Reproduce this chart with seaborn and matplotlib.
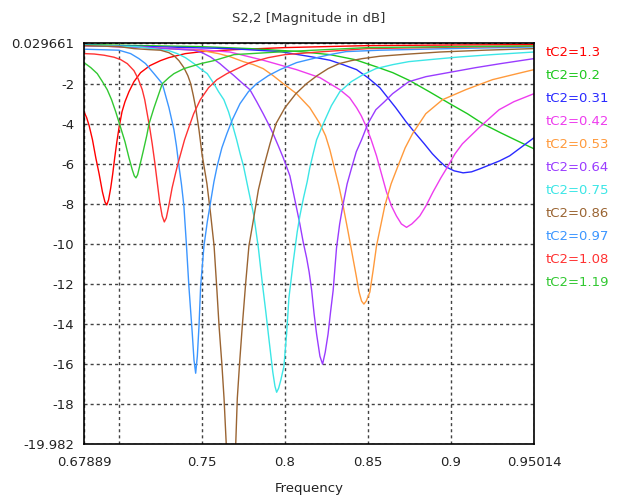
import matplotlib
matplotlib.use('Agg')
import matplotlib.pyplot as plt
from matplotlib.lines import Line2D
import seaborn as sns
import pandas as pd

# curve labels and colours (legend order)
labels = ['tC2=1.3', 'tC2=0.2', 'tC2=0.31', 'tC2=0.42', 'tC2=0.53', 'tC2=0.64',
          'tC2=0.75', 'tC2=0.86', 'tC2=0.97', 'tC2=1.08', 'tC2=1.19']
colors = ['#ff0000', '#1ec81e', '#2a2aff', '#ee3cee', '#ff9a3c', '#9a3cff',
          '#3ce6e6', '#9a6432', '#3c96ff', '#ff3232', '#32c832']

# values (frequency, dB)
f_130 = [0.6789, 0.6805, 0.6820, 0.6840, 0.6860, 0.6880, 0.6900, 0.6915, 0.6926, 0.6937,
         0.6950, 0.6962, 0.6974, 0.6987, 0.7000, 0.7018, 0.7036, 0.7060, 0.7090, 0.7130,
         0.7186, 0.7250, 0.7300, 0.7400, 0.7500, 0.7700, 0.8000, 0.8500, 0.9000, 0.9501]
db_130 = [-3.4, -3.7, -4.1, -4.8, -5.7, -6.5, -7.4, -7.9, -8.05, -7.8,
          -7.2, -6.5, -5.7, -4.9, -4.2, -3.4, -2.9, -2.4, -1.9, -1.45,
          -1.1, -0.85, -0.7, -0.5, -0.4, -0.3, -0.2, -0.1, -0.07, -0.05]

f_020 = [0.6789, 0.7488, 0.7789, 0.8090, 0.8271, 0.8422, 0.8548, 0.8650, 0.8753, 0.8870,
         0.8994, 0.9100, 0.9193, 0.9300, 0.9400, 0.9501]
db_020 = [-0.05, -0.15, -0.25, -0.4, -0.55, -0.8, -1.15, -1.45, -1.85, -2.4,
          -3.0, -3.5, -4.0, -4.45, -4.85, -5.25]

f_031 = [0.6789, 0.7186, 0.7668, 0.7970, 0.8168, 0.8271, 0.8350, 0.8432, 0.8500, 0.8572,
         0.8620, 0.8668, 0.8730, 0.8789, 0.8840, 0.8889, 0.8930, 0.8970, 0.9020, 0.9074,
         0.9125, 0.9175, 0.9235, 0.9295, 0.9355, 0.9420, 0.9501]
db_031 = [-0.08, -0.15, -0.25, -0.4, -0.67, -0.83, -1.05, -1.3, -1.7, -2.2,
          -2.7, -3.2, -3.9, -4.5, -5.0, -5.5, -5.85, -6.15, -6.35, -6.45,
          -6.4, -6.25, -6.05, -5.85, -5.6, -5.2, -4.7]

f_042 = [0.6789, 0.7200, 0.7488, 0.7668, 0.7869, 0.8070, 0.8211, 0.8331, 0.8390, 0.8432,
         0.8460, 0.8488, 0.8520, 0.8552, 0.8582, 0.8612, 0.8642, 0.8672, 0.8702, 0.8733,
         0.8765, 0.8790, 0.8813, 0.8850, 0.8893, 0.8940, 0.8984, 0.9025, 0.9070, 0.9120,
         0.9170, 0.9230, 0.9291, 0.9380, 0.9501]
db_042 = [-0.1, -0.2, -0.3, -0.42, -0.83, -1.3, -1.7, -2.3, -2.7, -3.2,
          -3.6, -4.1, -4.8, -5.6, -6.5, -7.4, -8.1, -8.6, -9.0, -9.17,
          -9.0, -8.8, -8.6, -8.1, -7.4, -6.7, -6.1, -5.5, -5.0, -4.6,
          -4.2, -3.75, -3.3, -2.9, -2.5]

f_053 = [0.6789, 0.7186, 0.7500, 0.7600, 0.7668, 0.7749, 0.7810, 0.7869, 0.7929, 0.7990,
         0.8070, 0.8150, 0.8211, 0.8245, 0.8271, 0.8295, 0.8325, 0.8351, 0.8381, 0.8411,
         0.8430, 0.8447, 0.8462, 0.8476, 0.8490, 0.8512, 0.8532, 0.8552, 0.8577, 0.8602,
         0.8640, 0.8682, 0.8725, 0.8769, 0.8849, 0.8950, 0.9090, 0.9251, 0.9400, 0.9501]
db_053 = [-0.1, -0.2, -0.35, -0.5, -0.65, -0.9, -1.05, -1.25, -1.6, -2.0,
          -2.5, -3.2, -4.0, -4.6, -5.3, -6.1, -7.1, -8.1, -9.4, -10.75,
          -11.6, -12.4, -12.85, -13.0, -12.85, -12.4, -11.3, -10.1, -9.1, -8.1,
          -7.0, -6.1, -5.2, -4.5, -3.5, -2.8, -2.3, -1.8, -1.5, -1.3]

f_064 = [0.6789, 0.7186, 0.7452, 0.7500, 0.7552, 0.7608, 0.7650, 0.7693, 0.7740, 0.7789,
         0.7830, 0.7869, 0.7900, 0.7929, 0.7960, 0.7990, 0.8030, 0.8060, 0.8090, 0.8110,
         0.8131, 0.8146, 0.8161, 0.8176, 0.8191, 0.8211, 0.8227, 0.8243, 0.8260, 0.8275,
         0.8291, 0.8311, 0.8330, 0.8351, 0.8375, 0.8402, 0.8430, 0.8462, 0.8500, 0.8548,
         0.8600, 0.8649, 0.8747, 0.8850, 0.8950, 0.9150, 0.9300, 0.9501]
db_064 = [-0.1, -0.2, -0.33, -0.45, -0.67, -1.0, -1.3, -1.6, -1.95, -2.3,
          -2.9, -3.5, -4.0, -4.5, -5.1, -5.7, -6.6, -7.8, -9.0, -9.9,
          -10.7, -11.4, -12.3, -13.5, -14.5, -15.6, -16.0, -15.4, -14.5, -13.4,
          -12.3, -10.2, -9.0, -8.0, -7.0, -6.2, -5.4, -4.8, -4.0, -3.3,
          -2.9, -2.5, -1.9, -1.65, -1.5, -1.2, -1.0, -0.75]

f_075 = [0.6789, 0.7100, 0.7300, 0.7351, 0.7400, 0.7452, 0.7490, 0.7532, 0.7572, 0.7600,
         0.7632, 0.7660, 0.7682, 0.7709, 0.7730, 0.7750, 0.7780, 0.7813, 0.7840, 0.7863,
         0.7885, 0.7903, 0.7927, 0.7940, 0.7950, 0.7962, 0.7975, 0.7994, 0.8010, 0.8024,
         0.8050, 0.8074, 0.8090, 0.8112, 0.8134, 0.8150, 0.8170, 0.8191, 0.8231, 0.8280,
         0.8331, 0.8400, 0.8471, 0.8548, 0.8650, 0.8747, 0.8900, 0.9048, 0.9250, 0.9501]
db_075 = [-0.08, -0.15, -0.35, -0.5, -0.7, -1.0, -1.25, -1.5, -2.0, -2.4,
          -2.8, -3.4, -4.0, -4.8, -5.5, -6.1, -7.3, -8.6, -10.2, -11.9,
          -13.4, -14.7, -16.4, -17.1, -17.4, -17.2, -16.8, -16.1, -14.5, -12.7,
          -10.9, -9.4, -8.6, -7.7, -6.9, -6.2, -5.5, -4.8, -4.0, -3.1,
          -2.4, -1.9, -1.55, -1.25, -1.05, -0.9, -0.78, -0.67, -0.55, -0.42]

f_086 = [0.6789, 0.7000, 0.7090, 0.7180, 0.7250, 0.7300, 0.7331, 0.7361, 0.7391, 0.7415,
         0.7432, 0.7448, 0.7462, 0.7482, 0.7500, 0.7530, 0.7552, 0.7573, 0.7590, 0.7603,
         0.7620, 0.7633, 0.7647, 0.7660, 0.7675, 0.7690, 0.7703, 0.7713, 0.7728, 0.7743,
         0.7763, 0.7783, 0.7810, 0.7840, 0.7874, 0.7910, 0.7946, 0.8000, 0.8066, 0.8130,
         0.8194, 0.8260, 0.8327, 0.8400, 0.8466, 0.8573, 0.8750, 0.8934, 0.9200, 0.9501]
db_086 = [-0.1, -0.15, -0.25, -0.3, -0.33, -0.45, -0.6, -0.85, -1.2, -1.6,
          -2.0, -2.6, -3.2, -4.3, -5.5, -7.0, -8.5, -10.1, -12.3, -14.1,
          -16.0, -17.7, -20.1, -24.0, -27.0, -24.0, -20.1, -17.7, -15.8, -14.1,
          -12.0, -10.1, -8.8, -7.3, -6.1, -5.0, -4.0, -3.2, -2.5, -2.0,
          -1.6, -1.25, -1.0, -0.85, -0.75, -0.63, -0.52, -0.42, -0.33, -0.25]

f_097 = [0.6789, 0.7000, 0.7070, 0.7120, 0.7160, 0.7211, 0.7261, 0.7301, 0.7331, 0.7346,
         0.7361, 0.7376, 0.7391, 0.7406, 0.7421, 0.7441, 0.7452, 0.7462, 0.7472, 0.7482,
         0.7492, 0.7512, 0.7532, 0.7552, 0.7572, 0.7592, 0.7620, 0.7650, 0.7683, 0.7729,
         0.7780, 0.7829, 0.7900, 0.7970, 0.8070, 0.8168, 0.8270, 0.8368, 0.8573, 0.9000,
         0.9501]
db_097 = [-0.28, -0.33, -0.5, -0.75, -1.0, -1.5, -2.0, -3.2, -4.3, -5.1,
          -6.1, -7.0, -8.1, -10.0, -12.1, -14.4, -15.8, -16.45, -15.6, -14.1,
          -12.1, -10.1, -8.9, -7.9, -6.9, -6.1, -5.2, -4.5, -3.8, -3.0,
          -2.4, -2.0, -1.6, -1.3, -0.95, -0.75, -0.55, -0.4, -0.33, -0.25,
          -0.17]

f_108 = [0.6789, 0.6850, 0.6910, 0.6970, 0.7010, 0.7050, 0.7090, 0.7115, 0.7140, 0.7155,
         0.7170, 0.7185, 0.7200, 0.7215, 0.7230, 0.7245, 0.7260, 0.7273, 0.7285, 0.7300,
         0.7320, 0.7340, 0.7355, 0.7375, 0.7395, 0.7420, 0.7450, 0.7490, 0.7540, 0.7590,
         0.7650, 0.7700, 0.7790, 0.7900, 0.8000, 0.8200, 0.8500, 0.9000, 0.9501]
db_108 = [-0.5, -0.52, -0.58, -0.68, -0.8, -1.0, -1.35, -1.75, -2.3, -2.8,
          -3.5, -4.2, -5.0, -5.9, -6.9, -7.9, -8.6, -8.9, -8.7, -8.1,
          -7.2, -6.5, -6.0, -5.4, -4.8, -4.2, -3.5, -2.8, -2.2, -1.8,
          -1.5, -1.3, -0.95, -0.7, -0.55, -0.42, -0.25, -0.18, -0.13]

f_119 = [0.6789, 0.6830, 0.6869, 0.6900, 0.6929, 0.6955, 0.6980, 0.7010, 0.7036, 0.7060,
         0.7080, 0.7092, 0.7102, 0.7112, 0.7125, 0.7145, 0.7167, 0.7181, 0.7211, 0.7261,
         0.7300, 0.7331, 0.7391, 0.7492, 0.7572, 0.7693, 0.8000, 0.8500, 0.9000, 0.9501]
db_119 = [-0.95, -1.2, -1.5, -1.9, -2.3, -2.8, -3.4, -4.2, -4.9, -5.7,
          -6.3, -6.6, -6.7, -6.55, -6.1, -5.4, -4.6, -4.0, -3.2, -2.0,
          -1.7, -1.5, -1.25, -1.0, -0.85, -0.55, -0.4, -0.2, -0.15, -0.12]

series = [(f_130, db_130), (f_020, db_020), (f_031, db_031), (f_042, db_042),
          (f_053, db_053), (f_064, db_064), (f_075, db_075), (f_086, db_086),
          (f_097, db_097), (f_108, db_108), (f_119, db_119)]

frames = []
for lab, (f, db) in zip(labels, series):
    frames.append(pd.DataFrame({'Frequency': f, 'dB': db, 'curve': lab}))
df = pd.concat(frames, ignore_index=True)

sns.set_style('white')
plt.rcParams['font.family'] = ['DejaVu Sans']
plt.rcParams['axes.unicode_minus'] = False

fig = plt.figure(figsize=(6.21, 4.95), dpi=100)
ax = fig.add_axes([84 / 621, 1 - 444 / 495, 450 / 621, 401 / 495])

sns.lineplot(data=df, x='Frequency', y='dB', hue='curve', hue_order=labels,
             palette=colors, estimator=None, sort=False, linewidth=1.0,
             legend=False, ax=ax)

ax.set_xlim(0.67889, 0.95014)
ax.set_ylim(-19.982, 0.029661)

xt = [0.67889, 0.7, 0.75, 0.8, 0.85, 0.9, 0.95014]
xl = ['0.67889', '', '0.75', '0.8', '0.85', '0.9', '0.95014']
yt = [-19.982, -18, -16, -14, -12, -10, -8, -6, -4, -2, 0.029661]
yl = ['-19.982', '-18', '-16', '-14', '-12', '-10', '-8', '-6', '-4', '-2', '0.029661']
ax.set_xticks(xt)
ax.set_xticklabels(xl)
ax.set_yticks(yt)
ax.set_yticklabels(yl)
ax.tick_params(direction='out', length=3, width=1, color='black',
               labelsize=9.5, labelcolor='#222222', pad=4)
ax.tick_params(axis='x', pad=6)

ax.grid(True, color='#222222', linestyle=(0, (2.2, 2.2)), linewidth=1.0, alpha=0.85)
for s in ax.spines.values():
    s.set_color('black')
    s.set_linewidth(1.2)

ax.set_title('S2,2 [Magnitude in dB]', fontsize=9.5, color='#333333', pad=15)
ax.set_xlabel('Frequency', fontsize=9.5, color='#222222', labelpad=9)
ax.set_ylabel('')

handles = [Line2D([], [], color=c) for c in colors]
fig.legend(handles, labels, loc='upper left', bbox_to_anchor=(546 / 621, 1 - 46 / 495),
           frameon=False, handlelength=0, handletextpad=0, borderpad=0,
           borderaxespad=0, labelspacing=0.76, fontsize=9.5, labelcolor='linecolor')

fig.savefig('out.png', dpi=100)
